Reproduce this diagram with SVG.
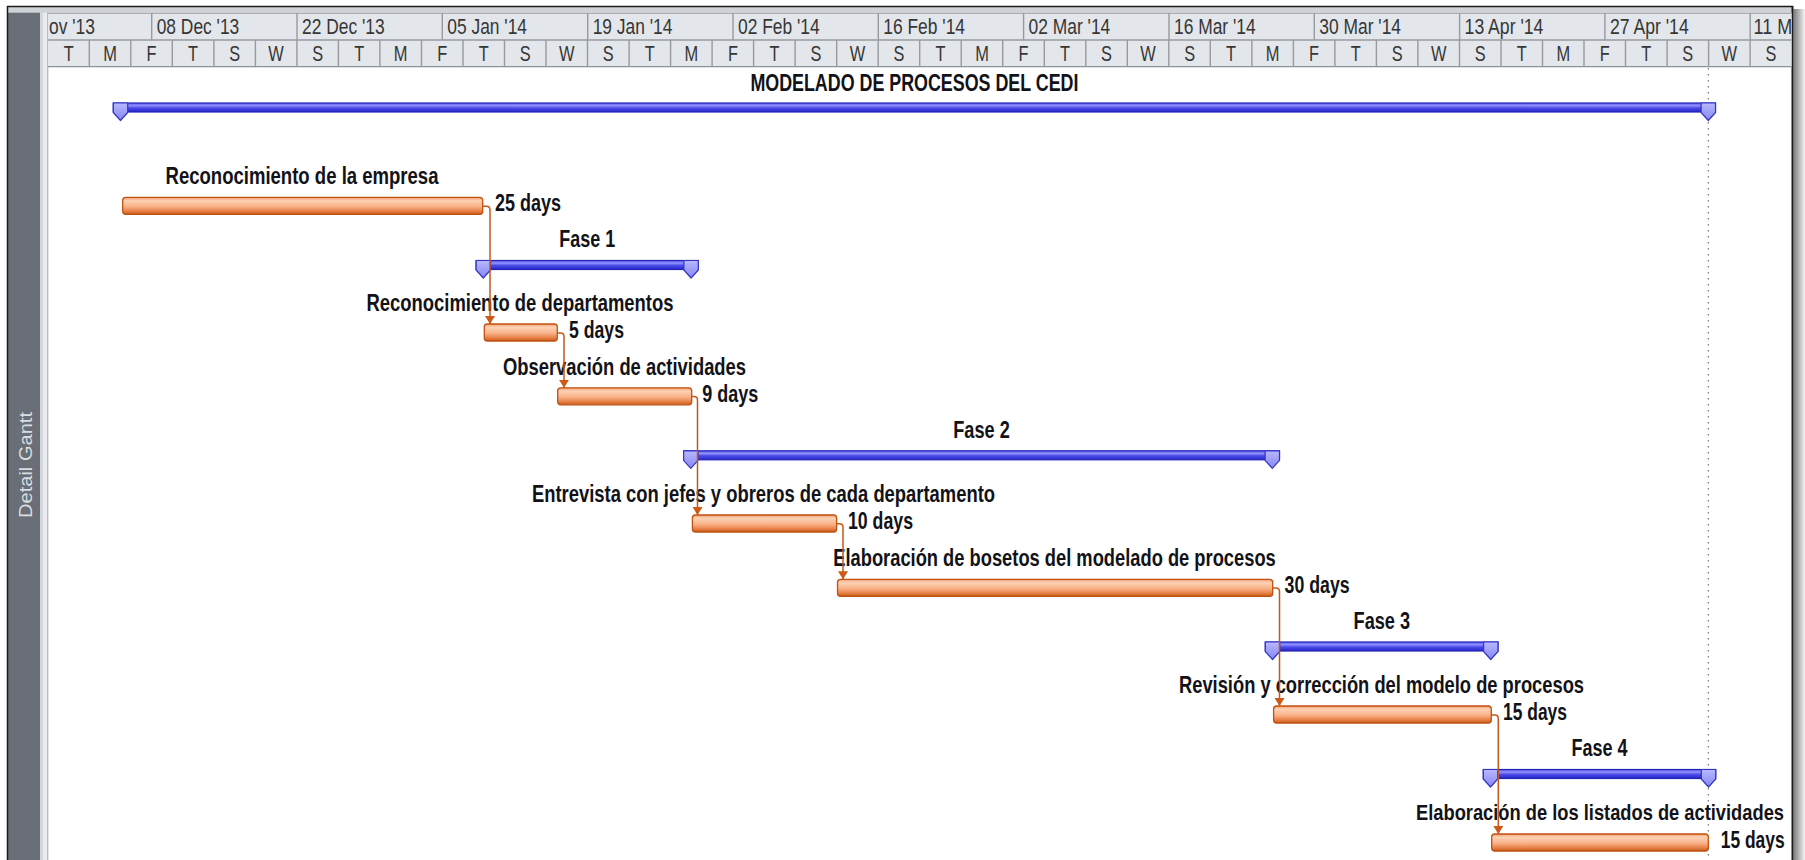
<svg xmlns="http://www.w3.org/2000/svg" width="1805" height="860" viewBox="0 0 1805 860">
  <defs>
    <style>
      .hdr{font-family:"Liberation Sans Narrow","Liberation Sans",Arial,sans-serif;font-size:21.5px;fill:#363636}
      .lbl{font-family:"Liberation Sans Narrow","Liberation Sans",Arial,sans-serif;font-size:23px;font-weight:bold;fill:#121218}
      .side{font-family:"Liberation Sans",Arial,sans-serif;font-size:19px;fill:#dadde0}
      .sep{fill:none;stroke:#979a9f;stroke-width:1.4}
      .sumbar{fill:url(#sumFill);stroke:#2222b4;stroke-width:1.2}
      .summark{fill:url(#markFill);stroke:#3434c4;stroke-width:1.2;stroke-linejoin:round}
      .task{fill:url(#taskFill);stroke:#c0520f;stroke-width:1.3}
      .link{fill:none;stroke:#c2581a;stroke-width:1.5;marker-end:url(#arrowDown)}
    </style>
    <linearGradient id="taskFill" x1="0" y1="0" x2="0" y2="1">
      <stop offset="0" stop-color="#f3a073"/>
      <stop offset="0.2" stop-color="#fdd1b5"/>
      <stop offset="0.55" stop-color="#f8b086"/>
      <stop offset="0.8" stop-color="#e8834a"/>
      <stop offset="1" stop-color="#c95c1c"/>
    </linearGradient>
    <linearGradient id="sumFill" x1="0" y1="0" x2="0" y2="1">
      <stop offset="0" stop-color="#5a5af2"/>
      <stop offset="0.3" stop-color="#9090ff"/>
      <stop offset="0.55" stop-color="#4b4be8"/>
      <stop offset="1" stop-color="#2727cc"/>
    </linearGradient>
    <linearGradient id="markFill" x1="0" y1="0" x2="0" y2="1">
      <stop offset="0" stop-color="#b8b8ff"/>
      <stop offset="1" stop-color="#8686f2"/>
    </linearGradient>
    <linearGradient id="shadowGrad" x1="0" y1="0" x2="1" y2="0">
      <stop offset="0" stop-color="#7c7c7c"/>
      <stop offset="1" stop-color="#f4f4f4"/>
    </linearGradient>
    <marker id="arrowDown" viewBox="0 0 8 10" refX="8" refY="5" markerWidth="8" markerHeight="10" markerUnits="userSpaceOnUse" orient="auto">
      <path d="M0,0 L8,5 L0,10 z" fill="#cc5a16"/>
    </marker>
    <clipPath id="hdrClip">
      <rect x="48" y="13" width="1743.5" height="54"/>
    </clipPath>
  </defs>

  <!-- window frame -->
  <rect width="1805" height="860" fill="#ffffff"/>
  <rect x="7" y="6" width="1786" height="7" fill="#cfd2d6"/>
  <rect x="7" y="12.7" width="33" height="848" fill="#6a6e76"/>
  <rect x="40" y="12.7" width="3" height="848" fill="#d3d6da"/>
  <rect x="43" y="12.7" width="4.5" height="848" fill="#e9ebee"/>
  <line x1="47.8" y1="12.7" x2="47.8" y2="860" stroke="#9fa3a8" stroke-width="1"/>
  <line x1="7" y1="6.5" x2="1793" y2="6.5" stroke="#1b1b1b" stroke-width="1.5"/>
  <line x1="7.5" y1="6" x2="7.5" y2="860" stroke="#1b1b1b" stroke-width="1.5"/>
  <rect x="1793.5" y="9" width="11.5" height="851" fill="url(#shadowGrad)"/>
  <line x1="1792.5" y1="6" x2="1792.5" y2="860" stroke="#1b1b1b" stroke-width="2"/>
  <text class="side" transform="translate(31.5,465) rotate(-90)" text-anchor="middle" textLength="106" lengthAdjust="spacingAndGlyphs">Detail Gantt</text>

  <!-- timescale header -->
  <g id="timescale">
    <rect x="48" y="13" width="1743.5" height="53.5" fill="#e3e6ea"/>
    <line x1="48" y1="13.4" x2="1791.5" y2="13.4" stroke="#a5a8ac" stroke-width="1"/>
    <line x1="48" y1="40" x2="1791.5" y2="40" stroke="#979a9f" stroke-width="1.4"/>
    <line x1="48" y1="66.6" x2="1791.5" y2="66.6" stroke="#8e9196" stroke-width="1.4"/>
    <path class="sep" d="M151.7 13V40M297 13V40M442.3 13V40M587.7 13V40M733 13V40M878.3 13V40M1023.6 13V40M1169 13V40M1314.3 13V40M1459.6 13V40M1604.9 13V40M1750.2 13V40"/>
    <path class="sep" d="M89.3 40V66.5M130.8 40V66.5M172.3 40V66.5M213.9 40V66.5M255.4 40V66.5M296.9 40V66.5M338.4 40V66.5M379.9 40V66.5M421.5 40V66.5M463 40V66.5M504.5 40V66.5M546 40V66.5M587.5 40V66.5M629.1 40V66.5M670.6 40V66.5M712.1 40V66.5M753.6 40V66.5M795.1 40V66.5M836.7 40V66.5M878.2 40V66.5M919.7 40V66.5M961.2 40V66.5M1002.7 40V66.5M1044.3 40V66.5M1085.8 40V66.5M1127.3 40V66.5M1168.8 40V66.5M1210.3 40V66.5M1251.9 40V66.5M1293.4 40V66.5M1334.9 40V66.5M1376.4 40V66.5M1417.9 40V66.5M1459.5 40V66.5M1501 40V66.5M1542.5 40V66.5M1584 40V66.5M1625.5 40V66.5M1667.1 40V66.5M1708.6 40V66.5M1750.1 40V66.5"/>
    <g clip-path="url(#hdrClip)">
      <text class="hdr" x="49" y="33.5" textLength="45.9" lengthAdjust="spacingAndGlyphs">ov '13</text>
      <text class="hdr" x="156.7" y="33.5" textLength="82.6" lengthAdjust="spacingAndGlyphs">08 Dec '13</text>
      <text class="hdr" x="302" y="33.5" textLength="82.6" lengthAdjust="spacingAndGlyphs">22 Dec '13</text>
      <text class="hdr" x="447.3" y="33.5" textLength="79.7" lengthAdjust="spacingAndGlyphs">05 Jan '14</text>
      <text class="hdr" x="592.7" y="33.5" textLength="79.7" lengthAdjust="spacingAndGlyphs">19 Jan '14</text>
      <text class="hdr" x="738" y="33.5" textLength="81.7" lengthAdjust="spacingAndGlyphs">02 Feb '14</text>
      <text class="hdr" x="883.3" y="33.5" textLength="81.7" lengthAdjust="spacingAndGlyphs">16 Feb '14</text>
      <text class="hdr" x="1028.6" y="33.5" textLength="81.7" lengthAdjust="spacingAndGlyphs">02 Mar '14</text>
      <text class="hdr" x="1174" y="33.5" textLength="81.7" lengthAdjust="spacingAndGlyphs">16 Mar '14</text>
      <text class="hdr" x="1319.3" y="33.5" textLength="81.7" lengthAdjust="spacingAndGlyphs">30 Mar '14</text>
      <text class="hdr" x="1464.6" y="33.5" textLength="78.8" lengthAdjust="spacingAndGlyphs">13 Apr '14</text>
      <text class="hdr" x="1609.9" y="33.5" textLength="78.8" lengthAdjust="spacingAndGlyphs">27 Apr '14</text>
      <text class="hdr" x="1753.5" y="33.5" textLength="38.7" lengthAdjust="spacingAndGlyphs">11 M</text>
    </g>
    <g text-anchor="middle">
      <text class="hdr" x="68.7" y="61.2" textLength="10" lengthAdjust="spacingAndGlyphs">T</text>
      <text class="hdr" x="110.1" y="61.2" textLength="13.7" lengthAdjust="spacingAndGlyphs">M</text>
      <text class="hdr" x="151.6" y="61.2" textLength="10" lengthAdjust="spacingAndGlyphs">F</text>
      <text class="hdr" x="193.1" y="61.2" textLength="10" lengthAdjust="spacingAndGlyphs">T</text>
      <text class="hdr" x="234.6" y="61.2" textLength="10.9" lengthAdjust="spacingAndGlyphs">S</text>
      <text class="hdr" x="276.1" y="61.2" textLength="15.5" lengthAdjust="spacingAndGlyphs">W</text>
      <text class="hdr" x="317.7" y="61.2" textLength="10.9" lengthAdjust="spacingAndGlyphs">S</text>
      <text class="hdr" x="359.2" y="61.2" textLength="10" lengthAdjust="spacingAndGlyphs">T</text>
      <text class="hdr" x="400.7" y="61.2" textLength="13.7" lengthAdjust="spacingAndGlyphs">M</text>
      <text class="hdr" x="442.2" y="61.2" textLength="10" lengthAdjust="spacingAndGlyphs">F</text>
      <text class="hdr" x="483.7" y="61.2" textLength="10" lengthAdjust="spacingAndGlyphs">T</text>
      <text class="hdr" x="525.3" y="61.2" textLength="10.9" lengthAdjust="spacingAndGlyphs">S</text>
      <text class="hdr" x="566.8" y="61.2" textLength="15.5" lengthAdjust="spacingAndGlyphs">W</text>
      <text class="hdr" x="608.3" y="61.2" textLength="10.9" lengthAdjust="spacingAndGlyphs">S</text>
      <text class="hdr" x="649.8" y="61.2" textLength="10" lengthAdjust="spacingAndGlyphs">T</text>
      <text class="hdr" x="691.3" y="61.2" textLength="13.7" lengthAdjust="spacingAndGlyphs">M</text>
      <text class="hdr" x="732.9" y="61.2" textLength="10" lengthAdjust="spacingAndGlyphs">F</text>
      <text class="hdr" x="774.4" y="61.2" textLength="10" lengthAdjust="spacingAndGlyphs">T</text>
      <text class="hdr" x="815.9" y="61.2" textLength="10.9" lengthAdjust="spacingAndGlyphs">S</text>
      <text class="hdr" x="857.4" y="61.2" textLength="15.5" lengthAdjust="spacingAndGlyphs">W</text>
      <text class="hdr" x="898.9" y="61.2" textLength="10.9" lengthAdjust="spacingAndGlyphs">S</text>
      <text class="hdr" x="940.5" y="61.2" textLength="10" lengthAdjust="spacingAndGlyphs">T</text>
      <text class="hdr" x="982" y="61.2" textLength="13.7" lengthAdjust="spacingAndGlyphs">M</text>
      <text class="hdr" x="1023.5" y="61.2" textLength="10" lengthAdjust="spacingAndGlyphs">F</text>
      <text class="hdr" x="1065" y="61.2" textLength="10" lengthAdjust="spacingAndGlyphs">T</text>
      <text class="hdr" x="1106.5" y="61.2" textLength="10.9" lengthAdjust="spacingAndGlyphs">S</text>
      <text class="hdr" x="1148.1" y="61.2" textLength="15.5" lengthAdjust="spacingAndGlyphs">W</text>
      <text class="hdr" x="1189.6" y="61.2" textLength="10.9" lengthAdjust="spacingAndGlyphs">S</text>
      <text class="hdr" x="1231.1" y="61.2" textLength="10" lengthAdjust="spacingAndGlyphs">T</text>
      <text class="hdr" x="1272.6" y="61.2" textLength="13.7" lengthAdjust="spacingAndGlyphs">M</text>
      <text class="hdr" x="1314.1" y="61.2" textLength="10" lengthAdjust="spacingAndGlyphs">F</text>
      <text class="hdr" x="1355.7" y="61.2" textLength="10" lengthAdjust="spacingAndGlyphs">T</text>
      <text class="hdr" x="1397.2" y="61.2" textLength="10.9" lengthAdjust="spacingAndGlyphs">S</text>
      <text class="hdr" x="1438.7" y="61.2" textLength="15.5" lengthAdjust="spacingAndGlyphs">W</text>
      <text class="hdr" x="1480.2" y="61.2" textLength="10.9" lengthAdjust="spacingAndGlyphs">S</text>
      <text class="hdr" x="1521.7" y="61.2" textLength="10" lengthAdjust="spacingAndGlyphs">T</text>
      <text class="hdr" x="1563.3" y="61.2" textLength="13.7" lengthAdjust="spacingAndGlyphs">M</text>
      <text class="hdr" x="1604.8" y="61.2" textLength="10" lengthAdjust="spacingAndGlyphs">F</text>
      <text class="hdr" x="1646.3" y="61.2" textLength="10" lengthAdjust="spacingAndGlyphs">T</text>
      <text class="hdr" x="1687.8" y="61.2" textLength="10.9" lengthAdjust="spacingAndGlyphs">S</text>
      <text class="hdr" x="1729.3" y="61.2" textLength="15.5" lengthAdjust="spacingAndGlyphs">W</text>
      <text class="hdr" x="1770.9" y="61.2" textLength="10.9" lengthAdjust="spacingAndGlyphs">S</text>
    </g>
  </g>

  <!-- project finish line -->
  <line x1="1708.4" y1="68" x2="1708.4" y2="860" stroke="#7e7e7e" stroke-width="1.3" stroke-dasharray="1.6 4.4"/>

  <!-- summary rows and tasks -->
  <g id="sum-modelado">
    <text class="lbl" x="914.4" y="90.5" text-anchor="middle" textLength="328" lengthAdjust="spacingAndGlyphs">MODELADO DE PROCESOS DEL CEDI</text>
    <rect class="sumbar" x="113.3" y="103" width="1602.2" height="9"/>
    <path class="summark" d="M113.3 103H127.7V112.5L120.5 120.5L113.3 112.5Z"/>
    <path class="summark" d="M1701.1 103H1715.5V112.5L1708.3 120.5L1701.1 112.5Z"/>
  </g>

  <g id="task-reconocimiento-empresa">
    <text class="lbl" x="302" y="184" text-anchor="middle" textLength="273" lengthAdjust="spacingAndGlyphs">Reconocimiento de la empresa</text>
    <rect class="task" x="122.7" y="197.3" width="360" height="17" rx="3"/>
    <text class="lbl" x="495" y="211" textLength="66" lengthAdjust="spacingAndGlyphs">25 days</text>
  </g>

  <g id="sum-fase1">
    <text class="lbl" x="587.2" y="247.2" text-anchor="middle" textLength="56" lengthAdjust="spacingAndGlyphs">Fase 1</text>
    <rect class="sumbar" x="476.1" y="260.5" width="222.2" height="9"/>
    <path class="summark" d="M476.1 260.5H490.5V270L483.3 278L476.1 270Z"/>
    <path class="summark" d="M683.9 260.5H698.3V270L691.1 278L683.9 270Z"/>
  </g>

  <g id="task-reconocimiento-departamentos">
    <text class="lbl" x="520" y="310.7" text-anchor="middle" textLength="307" lengthAdjust="spacingAndGlyphs">Reconocimiento de departamentos</text>
    <rect class="task" x="484.3" y="324" width="73" height="17" rx="3"/>
    <text class="lbl" x="569" y="337.7" textLength="55" lengthAdjust="spacingAndGlyphs">5 days</text>
  </g>

  <g id="task-observacion">
    <text class="lbl" x="624.5" y="374.5" text-anchor="middle" textLength="243" lengthAdjust="spacingAndGlyphs">Observación de actividades</text>
    <rect class="task" x="557.7" y="387.8" width="134" height="17" rx="3"/>
    <text class="lbl" x="702.3" y="401.5" textLength="56" lengthAdjust="spacingAndGlyphs">9 days</text>
  </g>

  <g id="sum-fase2">
    <text class="lbl" x="981.5" y="437.7" text-anchor="middle" textLength="56.5" lengthAdjust="spacingAndGlyphs">Fase 2</text>
    <rect class="sumbar" x="683.6" y="450.8" width="595.9" height="9"/>
    <path class="summark" d="M683.6 450.8H698V460.3L690.8 468.3L683.6 460.3Z"/>
    <path class="summark" d="M1265.1 450.8H1279.5V460.3L1272.3 468.3L1265.1 460.3Z"/>
  </g>

  <g id="task-entrevista">
    <text class="lbl" x="763.5" y="501.7" text-anchor="middle" textLength="463" lengthAdjust="spacingAndGlyphs">Entrevista con jefes y obreros de cada departamento</text>
    <rect class="task" x="692.4" y="515" width="144.2" height="17" rx="3"/>
    <text class="lbl" x="848" y="528.7" textLength="65" lengthAdjust="spacingAndGlyphs">10 days</text>
  </g>

  <g id="task-bosetos">
    <text class="lbl" x="1054.5" y="566" text-anchor="middle" textLength="442.5" lengthAdjust="spacingAndGlyphs">Elaboración de bosetos del modelado de procesos</text>
    <rect class="task" x="837.5" y="579.3" width="435.2" height="17" rx="3"/>
    <text class="lbl" x="1284.6" y="593" textLength="65" lengthAdjust="spacingAndGlyphs">30 days</text>
  </g>

  <g id="sum-fase3">
    <text class="lbl" x="1381.8" y="629" text-anchor="middle" textLength="56.5" lengthAdjust="spacingAndGlyphs">Fase 3</text>
    <rect class="sumbar" x="1265.3" y="642" width="232.7" height="9"/>
    <path class="summark" d="M1265.3 642H1279.7V651.5L1272.5 659.5L1265.3 651.5Z"/>
    <path class="summark" d="M1483.6 642H1498V651.5L1490.8 659.5L1483.6 651.5Z"/>
  </g>

  <g id="task-revision">
    <text class="lbl" x="1381.5" y="692.7" text-anchor="middle" textLength="405" lengthAdjust="spacingAndGlyphs">Revisión y corrección del modelo de procesos</text>
    <rect class="task" x="1273.6" y="706" width="217.7" height="17" rx="3"/>
    <text class="lbl" x="1503" y="719.7" textLength="64" lengthAdjust="spacingAndGlyphs">15 days</text>
  </g>

  <g id="sum-fase4">
    <text class="lbl" x="1599.5" y="756.2" text-anchor="middle" textLength="56" lengthAdjust="spacingAndGlyphs">Fase 4</text>
    <rect class="sumbar" x="1483.3" y="769.5" width="232.4" height="9"/>
    <path class="summark" d="M1483.3 769.5H1497.7V779L1490.5 787L1483.3 779Z"/>
    <path class="summark" d="M1701.3 769.5H1715.7V779L1708.5 787L1701.3 779Z"/>
  </g>

  <g id="task-listados">
    <!-- label squeezed by a horizontal scale so it stays inside the frame -->
    <text class="lbl" transform="translate(1600 820.3) scale(0.7953 1)" x="0" y="0" text-anchor="middle" textLength="462.7" lengthAdjust="spacingAndGlyphs">Elaboración de los listados de actividades</text>
    <rect class="task" x="1491.7" y="834" width="216.6" height="17" rx="3"/>
    <text class="lbl" x="1720.7" y="847.7" textLength="64" lengthAdjust="spacingAndGlyphs">15 days</text>
  </g>

  <!-- finish-to-start links -->
  <g id="links">
    <path class="link" d="M482.7 206.3H486.5Q490 206.3 490 209.8V324"/>
    <path class="link" d="M557.3 333H560.5Q564 333 564 336.5V387.8"/>
    <path class="link" d="M691.7 396.5H694Q697.5 396.5 697.5 400V515"/>
    <path class="link" d="M836.6 523.8H839.5Q843 523.8 843 527.3V579.3"/>
    <path class="link" d="M1272.7 588H1276Q1279.5 588 1279.5 591.5V706"/>
    <path class="link" d="M1491.3 715H1494.8Q1498.3 715 1498.3 718.5V834"/>
  </g>
</svg>
